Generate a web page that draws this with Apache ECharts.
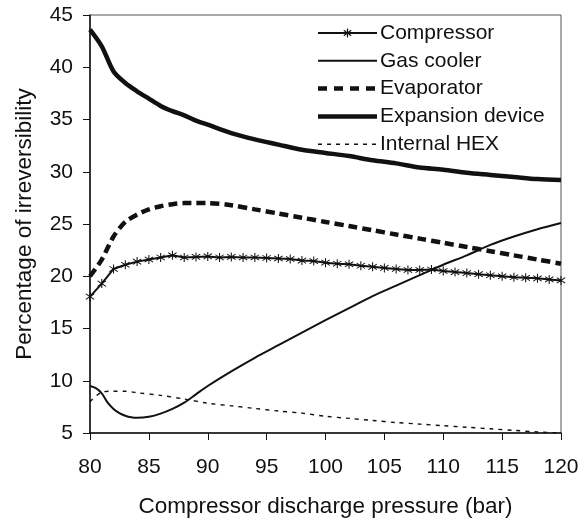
<!DOCTYPE html>
<html>
<head>
<meta charset="utf-8">
<script src="https://cdn.jsdelivr.net/npm/echarts@6/dist/echarts.min.js"></script>
<style>html,body{margin:0;padding:0;background:#fff;}#c{width:584px;height:523px;}</style>
</head>
<body>
<div id="c"></div>
<script>
// Data
const xTicks = [80, 85, 90, 95, 100, 105, 110, 115, 120];
const yTicks = [5, 10, 15, 20, 25, 30, 35, 40, 45];

const compressorX = [80,81,82,83,84,85,86,87,88,89,90,91,92,93,94,95,96,97,98,99,100,101,102,103,104,105,106,107,108,109,110,111,112,113,114,115,116,117,118,119,120];
const compressorY = [18.05,19.3,20.7,21.1,21.4,21.6,21.8,22.0,21.8,21.85,21.9,21.8,21.85,21.8,21.8,21.75,21.7,21.65,21.5,21.45,21.3,21.2,21.15,21.0,20.9,20.8,20.7,20.6,20.6,20.65,20.5,20.4,20.3,20.2,20.1,20.0,19.9,19.85,19.8,19.7,19.6];

const gasCoolerX = [80,80.5,81,81.5,82,82.5,83,83.5,84,85,86,87,88,89,90,92,94,96,98,100,102,104,106,108,110,112,114,116,118,120];
const gasCoolerY = [9.5,9.3,8.8,7.9,7.3,6.9,6.65,6.5,6.45,6.55,6.85,7.3,7.9,8.7,9.5,10.9,12.2,13.4,14.6,15.8,16.95,18.1,19.1,20.1,21.1,22.0,23.0,23.8,24.5,25.1];

const evaporatorX = [80,81,82,83,84,85,86,87,88,89,90,92,94,96,98,100,102,104,106,108,110,112,114,116,118,120];
const evaporatorY = [20.0,21.6,23.8,25.2,25.9,26.4,26.7,26.9,27.0,27.0,27.0,26.8,26.4,26.0,25.6,25.2,24.8,24.4,24.0,23.6,23.2,22.8,22.4,22.0,21.6,21.2];

const expansionX = [80,81,82,83,84,85,86,87,88,89,90,92,94,96,98,100,102,104,106,108,110,112,114,116,118,120];
const expansionY = [43.6,42.0,39.6,38.5,37.7,37.0,36.3,35.8,35.4,34.9,34.5,33.7,33.1,32.6,32.1,31.8,31.5,31.1,30.8,30.4,30.2,29.9,29.7,29.5,29.3,29.2];

const hexX = [80,81,82,83,84,86,88,90,92,94,96,98,100,102,104,106,108,110,112,114,116,118,120];
const hexY = [8.0,8.9,9.0,9.0,8.85,8.6,8.25,7.85,7.6,7.35,7.1,6.9,6.6,6.4,6.2,6.0,5.85,5.7,5.55,5.4,5.25,5.1,5.0];

const names = ['Compressor', 'Gas cooler', 'Evaporator', 'Expansion device', 'Internal HEX'];

function pairs(xs, ys) { return xs.map((x, i) => [x, ys[i]]); }

const ink = '#111';
const font = 'Liberation Sans, Arial, sans-serif';
const starPath = 'path://M4.5,0L5.5,0L5.5,10L4.5,10Z M1.3,1.6L9.3,7.6L8.7,8.4L0.7,2.4Z M0.7,7.6L8.7,1.6L9.3,2.4L1.3,8.4Z';

// legend styles (sample line per series)
const legendStyles = [
  {lineWidth: 2, lineDash: null, marker: true},
  {lineWidth: 2, lineDash: null, marker: false},
  {lineWidth: 4.5, lineDash: [9, 7], marker: false},
  {lineWidth: 4.5, lineDash: null, marker: false},
  {lineWidth: 1.4, lineDash: [4, 5], marker: false}
];
const legendLeft = 318, legendTop = 33, legendRow = 27.8, legendLen = 59;
const graphic = [];
names.forEach((n, i) => {
  const y = legendTop + i * legendRow;
  const st = legendStyles[i];
  const lineStyle = {stroke: ink, lineWidth: st.lineWidth};
  if (st.lineDash) lineStyle.lineDash = st.lineDash;
  graphic.push({type: 'line', shape: {x1: legendLeft, y1: y, x2: legendLeft + legendLen, y2: y},
    style: lineStyle, z: 100});
  if (st.marker) {
    const cx = legendLeft + legendLen / 2, r = 4.5;
    graphic.push({type: 'line', shape: {x1: cx, y1: y - r, x2: cx, y2: y + r}, style: {stroke: ink, lineWidth: 1.2}, z: 100});
    graphic.push({type: 'line', shape: {x1: cx - 3.7, y1: y - 2.8, x2: cx + 3.7, y2: y + 2.8}, style: {stroke: ink, lineWidth: 1.2}, z: 100});
    graphic.push({type: 'line', shape: {x1: cx - 3.7, y1: y + 2.8, x2: cx + 3.7, y2: y - 2.8}, style: {stroke: ink, lineWidth: 1.2}, z: 100});
  }
  graphic.push({type: 'text', x: legendLeft + legendLen + 3, y: y,
    style: {text: n, fill: ink, font: '21px ' + font, verticalAlign: 'middle'}, z: 100});
});

const chart = echarts.init(document.getElementById('c'), null, {renderer: 'canvas'});
chart.setOption({
  animation: false,
  backgroundColor: '#fff',
  textStyle: {fontFamily: font, color: ink},
  grid: {left: 90, right: 23, top: 15, bottom: 89, show: true, borderColor: '#555', borderWidth: 1},
  graphic: graphic,
  xAxis: {
    type: 'value', min: 80, max: 120, interval: 5,
    name: 'Compressor discharge pressure (bar)', nameLocation: 'middle', nameGap: 62,
    nameTextStyle: {fontFamily: font, fontSize: 22.5, color: ink},
    axisLine: {show: true, lineStyle: {color: ink, width: 1.5}},
    axisTick: {show: true, inside: false, length: 7, lineStyle: {color: ink}},
    axisLabel: {fontFamily: font, fontSize: 21, color: ink, margin: 24,
      formatter: v => xTicks.includes(v) ? String(v) : ''},
    splitLine: {show: false}
  },
  yAxis: {
    type: 'value', min: 5, max: 45, interval: 5,
    name: 'Percentage of irreversibility', nameLocation: 'middle', nameGap: 54,
    nameTextStyle: {fontFamily: font, fontSize: 22.5, color: ink},
    axisLine: {show: true, lineStyle: {color: ink, width: 1.5}},
    axisTick: {show: true, inside: false, length: 7, lineStyle: {color: ink}},
    axisLabel: {fontFamily: font, fontSize: 21, color: ink, margin: 17,
      formatter: v => yTicks.includes(v) ? String(v) : ''},
    splitLine: {show: false}
  },
  series: [
    {name: names[0], type: 'line', data: pairs(compressorX, compressorY),
      symbol: starPath, symbolSize: 9, showSymbol: true,
      lineStyle: {color: ink, width: 2}, itemStyle: {color: ink}},
    {name: names[1], type: 'line', data: pairs(gasCoolerX, gasCoolerY), smooth: 0.3,
      showSymbol: false, symbol: 'none',
      lineStyle: {color: ink, width: 2}, itemStyle: {color: ink}},
    {name: names[2], type: 'line', data: pairs(evaporatorX, evaporatorY), smooth: 0.3,
      showSymbol: false, symbol: 'none',
      lineStyle: {color: ink, width: 4.5, type: [9, 5]}, itemStyle: {color: ink}},
    {name: names[3], type: 'line', data: pairs(expansionX, expansionY), smooth: 0.3,
      showSymbol: false, symbol: 'none',
      lineStyle: {color: ink, width: 4.5}, itemStyle: {color: ink}},
    {name: names[4], type: 'line', data: pairs(hexX, hexY), smooth: 0.3,
      showSymbol: false, symbol: 'none',
      lineStyle: {color: ink, width: 1.4, type: [4, 5]}, itemStyle: {color: ink}}
  ]
});
</script>
</body>
</html>
